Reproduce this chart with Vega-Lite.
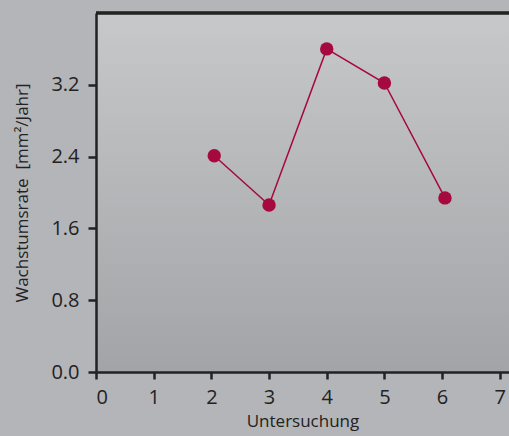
{
  "$schema": "https://vega.github.io/schema/vega-lite/v6.json",
  "autosize": {"type": "none"},
  "width": 413,
  "height": 359,
  "padding": {"left": 96, "top": 13, "right": 0, "bottom": 64},
  "background": "#b4b5b8",
  "config": {
    "view": {"stroke": null, "fill": {"gradient": "linear", "x1": 0, "y1": 0, "x2": 0, "y2": 1, "stops": [{"offset": 0, "color": "#c7c8ca"}, {"offset": 1, "color": "#a3a4a7"}]}},
    "font": "Open Sans",
    "axis": {
      "domainColor": "#222222", "domainWidth": 2.5,
      "tickColor": "#222222", "tickWidth": 2.5, "tickSize": 8,
      "labelFont": "Open Sans", "labelFontSize": 20, "labelColor": "#222222",
      "titleFont": "Open Sans", "titleFontSize": 17, "titleFontWeight": "normal", "titleColor": "#222222",
      "grid": false
    }
  },
  "data": {"values": [
    {"untersuchung": 2.05, "rate": 2.41},
    {"untersuchung": 3.0, "rate": 1.86},
    {"untersuchung": 4.0, "rate": 3.6},
    {"untersuchung": 5.0, "rate": 3.22},
    {"untersuchung": 6.05, "rate": 1.94}
  ]},
  "layer": [
    {
      "mark": {"type": "rule", "color": "#222222", "strokeWidth": 2.5},
      "encoding": {"y": {"datum": 4}}
    },
    {
      "mark": {"type": "line", "color": "#a6093d", "strokeWidth": 1.5},
      "encoding": {
        "x": {"field": "untersuchung", "type": "quantitative", "scale": {"domain": [0, 7.16], "nice": false, "zero": false},
              "axis": {"values": [0, 1, 2, 3, 4, 5, 6, 7], "title": "Untersuchung", "tickSize": 7, "labelPadding": 8, "titlePadding": 6, "format": "d"}},
        "y": {"field": "rate", "type": "quantitative", "scale": {"domain": [0, 4], "nice": false},
              "axis": {"values": [0, 0.8, 1.6, 2.4, 3.2], "format": ".1f", "title": "Wachstumsrate\u00a0\u00a0[mm²/Jahr]", "labelPadding": 9, "titlePadding": 19}}
      }
    },
    {
      "mark": {"type": "point", "filled": true, "opacity": 1, "color": "#a6093d", "size": 180},
      "encoding": {
        "x": {"field": "untersuchung", "type": "quantitative"},
        "y": {"field": "rate", "type": "quantitative"}
      }
    }
  ]
}
